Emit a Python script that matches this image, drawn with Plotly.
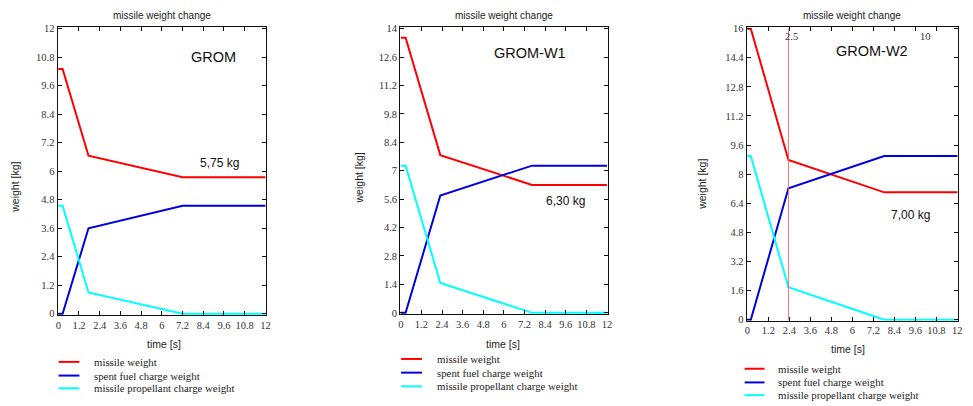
import plotly.graph_objects as go

W, H = 973, 406

# ---------------- data ----------------
panel_names = ["GROM", "GROM-W1", "GROM-W2"]
final_labels = ["5,75 kg", "6,30 kg", "7,00 kg"]

t_grom = [0, 0.25, 1.75, 7.2, 12]
missile_grom = [10.3, 10.3, 6.65, 5.75, 5.75]
spent_grom = [0, 0, 3.6, 4.55, 4.55]
prop_grom = [4.55, 4.55, 0.9, 0, 0]

t_w1 = [0, 0.28, 2.3, 7.64, 12]
missile_w1 = [13.55, 13.55, 7.77, 6.30, 6.30]
spent_w1 = [0, 0, 5.78, 7.25, 7.25]
prop_w1 = [7.25, 7.25, 1.47, 0, 0]

t_w2 = [0, 0.2, 2.35, 7.82, 12]
missile_w2 = [16, 16, 8.78, 7.0, 7.0]
spent_w2 = [0, 0, 7.22, 9.0, 9.0]
prop_w2 = [9.0, 9.0, 1.78, 0, 0]

series_names = ["missile weight", "spent fuel charge weight", "missile propellant charge weight"]
series_colors = ["#ff0000", "#0000e0", "#00ffff"]

x_ticks = [0, 1.2, 2.4, 3.6, 4.8, 6, 7.2, 8.4, 9.6, 10.8, 12]
x_ticktext = ["0", "1.2", "2.4", "3.6", "4.8", "6", "7.2", "8.4", "9.6", "10.8", "12"]
y_ticks_1 = [0, 1.2, 2.4, 3.6, 4.8, 6, 7.2, 8.4, 9.6, 10.8, 12]
y_ticktext_1 = ["0", "1.2", "2.4", "3.6", "4.8", "6", "7.2", "8.4", "9.6", "10.8", "12"]
y_ticks_2 = [0, 1.4, 2.8, 4.2, 5.6, 7, 8.4, 9.8, 11.2, 12.6, 14]
y_ticktext_2 = ["0", "1.4", "2.8", "4.2", "5.6", "7", "8.4", "9.8", "11.2", "12.6", "14"]
y_ticks_3 = [0, 1.6, 3.2, 4.8, 6.4, 8, 9.6, 11.2, 12.8, 14.4, 16]
y_ticktext_3 = ["0", "1.6", "3.2", "4.8", "6.4", "8", "9.6", "11.2", "12.8", "14.4", "16"]
y_max = [12, 14, 16]

marker_values = [2.35, 10]
marker_labels = ["2.5", "10"]

# ---------------- layout geometry (pixels) ----------------
plot_px = [  # x0, x1, ytop, ybottom
    (56, 266, 24, 318),
    (401, 610, 24, 317),
    (750, 963, 24, 324),
]
legend_px = [  # line x0, line x1, text x, row ys
    (57, 78, 91, [366, 380, 393]),
    (402, 423, 436, [363, 377, 391]),
    (748, 768, 780, [373, 387, 400]),
]
xtitle_px = [(163, 348), (505, 348), (852, 353)]
ytitle_px = [(13, 187), (360, 178), (705, 184)]

# label positions in data coordinates
name_pos = [(8.97, 10.82), (7.52, 12.8), (7.15, 14.75)]
final_pos = [(9.35, 6.33), (9.59, 5.49), (9.35, 5.78)]


def px(x):
    return x / W


def py(y):
    return 1 - y / H


fig = go.Figure()

data = [
    (t_grom, [missile_grom, spent_grom, prop_grom]),
    (t_w1, [missile_w1, spent_w1, prop_w1]),
    (t_w2, [missile_w2, spent_w2, prop_w2]),
]

serif = "Liberation Serif"
sans = "Liberation Sans"
annotations = []
shapes = []

for i, (t, ys) in enumerate(data):
    sfx = "" if i == 0 else str(i + 1)
    for name, color, y in zip(series_names, series_colors, ys):
        fig.add_trace(go.Scatter(
            x=t, y=y, mode="lines", name=name, showlegend=False,
            line=dict(color=color, width=2),
            xaxis="x" + sfx, yaxis="y" + sfx,
        ))
    x0, x1, yt, yb = plot_px[i]
    yt_vals = [y_ticks_1, y_ticks_2, y_ticks_3][i]
    yt_text = [y_ticktext_1, y_ticktext_2, y_ticktext_3][i]
    ym = y_max[i]
    common = dict(
        showline=True, linecolor="#111111", linewidth=1, mirror="ticks",
        ticks="inside", ticklen=4, tickcolor="#111111", tickwidth=1,
        showgrid=False, zeroline=False,
        tickfont=dict(family=serif, size=10.5, color="#333333"),
    )
    fig.update_layout(**{
        "xaxis" + sfx: dict(
            domain=[px(x0), px(x1)], anchor="y" + sfx,
            range=[-0.04, 12.04], tickvals=x_ticks, ticktext=x_ticktext, **common),
        "yaxis" + sfx: dict(
            domain=[py(yb), py(yt)], anchor="x" + sfx,
            range=[-0.004 * ym, ym * 1.004], tickvals=yt_vals, ticktext=yt_text, **common),
    })
    # title above the plot
    annotations.append(dict(
        text="missile weight change", x=px((x0 + x1) / 2), y=py(12), xref="paper", yref="paper",
        showarrow=False, font=dict(family=sans, size=10, color="#222222"),
        xanchor="center", yanchor="middle"))
    # axis titles
    annotations.append(dict(
        text="time [s]", x=px(xtitle_px[i][0]), y=py(xtitle_px[i][1]), xref="paper", yref="paper",
        showarrow=False, font=dict(family=sans, size=10.5, color="#222222"),
        xanchor="center", yanchor="middle"))
    annotations.append(dict(
        text="weight [kg]", x=px(ytitle_px[i][0]), y=py(ytitle_px[i][1]), xref="paper", yref="paper",
        showarrow=False, textangle=-90, font=dict(family=sans, size=10.5, color="#222222"),
        xanchor="center", yanchor="middle"))
    # legend (manual)
    lx0, lx1, tx, rows = legend_px[i]
    for name, color, ry in zip(series_names, series_colors, rows):
        shapes.append(dict(type="line", xref="paper", yref="paper",
                           x0=px(lx0), x1=px(lx1), y0=py(ry), y1=py(ry),
                           line=dict(color=color, width=2)))
        annotations.append(dict(
            text=name, x=px(tx), y=py(ry), xref="paper", yref="paper",
            showarrow=False, font=dict(family=serif, size=10.8, color="#222222"),
            xanchor="left", yanchor="middle"))

for i in range(3):
    sfx = "" if i == 0 else str(i + 1)
    annotations.append(dict(
        text=panel_names[i], x=name_pos[i][0], y=name_pos[i][1],
        xref="x" + sfx, yref="y" + sfx, showarrow=False,
        font=dict(family=sans, size=14.5, color="#111111"), xanchor="center", yanchor="middle"))
    annotations.append(dict(
        text=final_labels[i], x=final_pos[i][0], y=final_pos[i][1],
        xref="x" + sfx, yref="y" + sfx, showarrow=False,
        font=dict(family=sans, size=12, color="#111111"), xanchor="center", yanchor="middle"))

# markers in panel 3
shapes.append(dict(type="line", xref="x3", yref="y3", x0=marker_values[0], x1=marker_values[0],
                   y0=0, y1=16, line=dict(color="rgba(255,90,90,0.85)", width=1)))
for v, lab in zip(marker_values, marker_labels):
    annotations.append(dict(
        text=lab, x=v, y=15.55, xref="x3", yref="y3", showarrow=False, xshift=3,
        font=dict(family=serif, size=10.5, color="#333333"), xanchor="center", yanchor="middle"))

fig.update_layout(
    width=W, height=H, margin=dict(l=0, r=0, t=0, b=0),
    paper_bgcolor="white", plot_bgcolor="white",
    annotations=annotations, shapes=shapes, showlegend=False,
)

fig.write_html("out.html")
